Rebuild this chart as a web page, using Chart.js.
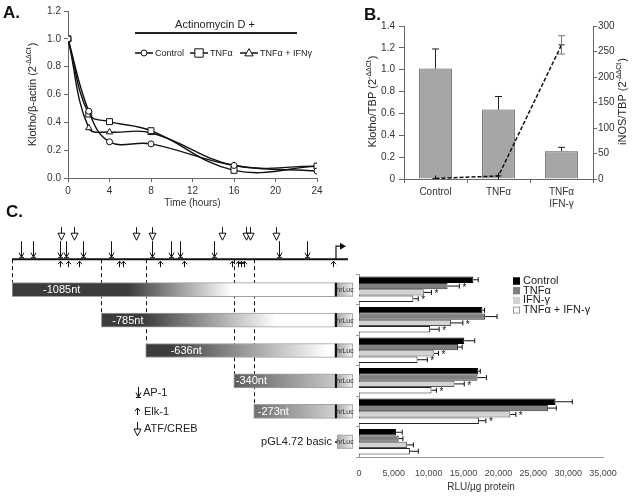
<!DOCTYPE html>
<html>
<head>
<meta charset="utf-8">
<script src="https://cdn.jsdelivr.net/npm/chart.js@4.4.1/dist/chart.umd.min.js"></script>
<style>
  body { margin: 0; background: #fff; }
  #wrap { position: relative; width: 632px; height: 496px; overflow: hidden; background: #fff; }
  canvas { position: absolute; }
</style>
</head>
<body>
<div id="wrap">
  <canvas id="chartD" width="360" height="296" style="left:0;top:200px"></canvas>
  <canvas id="chartA" width="330" height="215" style="left:0;top:0"></canvas>
  <canvas id="chartB" width="302" height="215" style="left:330px;top:0"></canvas>
  <canvas id="chartC" width="292" height="234" style="left:340px;top:262px"></canvas>
</div>
<script>
// ---- panel A: klotho mRNA decay ----
const timeHours = [0, 2, 4, 8, 16, 24];
const klothoControl = [1.0, 0.48, 0.26, 0.245, 0.09, 0.05];
const klothoTnf = [1.0, 0.46, 0.405, 0.34, 0.055, 0.085];
const klothoTnfIfn = [1.0, 0.36, 0.33, 0.325, 0.09, 0.085];

// ---- panel B: klotho vs iNOS ----
const treatB = ['Control', 'TNFα', ['TNFα', 'IFN-γ']];
const klothoTbp = [1.01, 0.635, 0.255];
const klothoTbpErr = [0.18, 0.12, 0.035];
const inosTbp = [1, 6, 263];
const inosTbpErr = [0, 0, 18];

// ---- panel C: promoter constructs ----
const constructs = ['-1085nt', '-785nt', '-636nt', '-340nt', '-273nt', 'pGL4.72 basic'];
const constructStart = [-1085, -785, -636, -340, -273];
const ap1Sites = [-1055, -1014, -924, -904, -846, -752, -615, -551, -521, -406, -188, -94];
const elk1Sites = [-924, -897, -860, -726, -712, -588, -507, -346, -326, -316, -306, -7];
const atfSites = [-920, -877, -668, -615, -380, -299, -286, -198];

const rluControl = [16400, 17700, 15100, 17100, 28200, 5300];
const rluControlErr = [700, 300, 1500, 300, 2400, 900];
const rluTnf = [12700, 18100, 14200, 17000, 27100, 5700];
const rluTnfErr = [1700, 1700, 600, 1300, 1200, 600];
const rluIfn = [9300, 13200, 10800, 13700, 21700, 6900];
const rluIfnErr = [1100, 1700, 600, 1400, 800, 900];
const rluTnfIfn = [7800, 10200, 8400, 10400, 17200, 7300];
const rluTnfIfnErr = [700, 1300, 1400, 700, 1000, 1200];
const sigTnf = [true, false, false, false, false, false];
const sigIfn = [true, true, true, true, true, false];
const sigTnfIfn = [true, true, true, true, true, false];

const FONT = '"Liberation Sans", Arial, sans-serif';
Chart.defaults.font.family = FONT;
Chart.defaults.color = '#333';

function font(size, bold) {
  return (bold ? 'bold ' : '') + size + 'px ' + FONT;
}

// rotated axis title with a superscript part
function supTitle(ctx, x, y, main, sup, tail, size) {
  ctx.save();
  ctx.translate(x, y);
  ctx.rotate(-Math.PI / 2);
  ctx.fillStyle = '#222';
  ctx.textBaseline = 'middle';
  ctx.textAlign = 'left';
  const f1 = font(size), f2 = font(Math.round(size * 0.6));
  ctx.font = f1;
  const w1 = ctx.measureText(main).width, w3 = ctx.measureText(tail).width;
  ctx.font = f2;
  const w2 = ctx.measureText(sup).width;
  let sx = -(w1 + w2 + w3) / 2;
  ctx.font = f1; ctx.fillText(main, sx, 0); sx += w1;
  ctx.font = f2; ctx.fillText(sup, sx, -size * 0.38); sx += w2 + 1;
  ctx.font = f1; ctx.fillText(tail, sx, 0);
  ctx.restore();
}

function marker(ctx, style, x, y, r) {
  ctx.beginPath();
  if (style === 'circle') ctx.arc(x, y, r, 0, Math.PI * 2);
  else if (style === 'rect') ctx.rect(x - r, y - r, 2 * r, 2 * r);
  else {
    ctx.moveTo(x, y - r * 1.2);
    ctx.lineTo(x + r * 1.15, y + r * 0.8);
    ctx.lineTo(x - r * 1.15, y + r * 0.8);
    ctx.closePath();
  }
  ctx.fillStyle = '#fff';
  ctx.fill();
  ctx.stroke();
}

function seg(ctx, x1, y1, x2, y2) {
  ctx.beginPath();
  ctx.moveTo(x1, y1);
  ctx.lineTo(x2, y2);
  ctx.stroke();
}

const axisGrid = { drawOnChartArea: false, tickLength: 4, color: '#666' };
const axisBorder = { color: '#666' };
const tickFont = { size: 10 };

// ================= A =================
const panelA = {
  id: 'panelA',
  afterDraw(chart) {
    const ctx = chart.ctx;
    ctx.save();
    ctx.fillStyle = '#111';
    ctx.font = font(17, true);
    ctx.textBaseline = 'middle';
    ctx.fillText('A.', 3, 13);
    supTitle(ctx, 33, 95, 'Klotho/β-actin (2', '-ΔΔCt', ')', 11);

    ctx.fillStyle = '#222';
    ctx.font = font(11);
    ctx.textAlign = 'center';
    ctx.fillText('Actinomycin D +', 215, 25);
    ctx.fillRect(135, 32, 162, 2);

    const legX = [135, 190, 240];
    ctx.font = font(9);
    ctx.textAlign = 'left';
    chart.data.datasets.forEach((ds, i) => {
      const x = legX[i], y = 53;
      ctx.strokeStyle = '#111';
      ctx.lineWidth = 1.5;
      seg(ctx, x, y, x + 18, y);
      ctx.lineWidth = 1;
      marker(ctx, ds.pointStyle, x + 9, y, ds.pointRadius);
      ctx.fillStyle = '#222';
      ctx.fillText(ds.label, x + 20, y + 0.5);
    });
    ctx.restore();
  }
};

const lineStyle = {
  borderColor: '#111', borderWidth: 1.4, tension: 0.4,
  pointBackgroundColor: '#fff', pointBorderColor: '#111', pointBorderWidth: 1
};

new Chart(document.getElementById('chartA'), {
  type: 'line',
  data: {
    datasets: [
      { label: 'Control', data: timeHours.map((t, i) => ({ x: t, y: klothoControl[i] })),
        pointStyle: 'circle', pointRadius: 3, ...lineStyle },
      { label: 'TNFα', data: timeHours.map((t, i) => ({ x: t, y: klothoTnf[i] })),
        pointStyle: 'rect', pointRadius: 4.2, ...lineStyle },
      { label: 'TNFα + IFNγ', data: timeHours.map((t, i) => ({ x: t, y: klothoTnfIfn[i] })),
        pointStyle: 'triangle', pointRadius: 3.6, ...lineStyle }
    ]
  },
  options: {
    responsive: false,
    animation: false,
    layout: { padding: { left: 0, right: 13, top: 11, bottom: 0 } },
    plugins: { legend: { display: false }, tooltip: { enabled: false } },
    scales: {
      x: {
        type: 'linear', min: 0, max: 24,
        ticks: { stepSize: 4, font: tickFont, padding: 3 },
        grid: axisGrid, border: axisBorder,
        title: { display: true, text: 'Time (hours)', font: { size: 10 }, padding: { top: 0, bottom: 6 } },
        afterFit(s) { s.height = 37; }
      },
      y: {
        min: 0, max: 1.2,
        ticks: { stepSize: 0.2, font: tickFont, padding: 3, callback: v => v.toFixed(1) },
        grid: axisGrid, border: axisBorder,
        afterFit(s) { s.width = 68; }
      }
    }
  },
  plugins: [panelA]
});

// ================= B =================
const panelB = {
  id: 'panelB',
  afterDatasetsDraw(chart) {
    const ctx = chart.ctx;
    const ys = chart.scales.y, y1 = chart.scales.y1;
    ctx.save();
    ctx.strokeStyle = '#222';
    ctx.lineWidth = 1;
    chart.getDatasetMeta(1).data.forEach((bar, i) => {
      const yt = ys.getPixelForValue(klothoTbp[i] + klothoTbpErr[i]);
      seg(ctx, bar.x, bar.y, bar.x, yt);
      seg(ctx, bar.x - 3.5, yt, bar.x + 3.5, yt);
    });
    chart.getDatasetMeta(0).data.forEach((pt, i) => {
      if (!inosTbpErr[i]) return;
      const yt = y1.getPixelForValue(inosTbp[i] + inosTbpErr[i]);
      const yb = y1.getPixelForValue(inosTbp[i] - inosTbpErr[i]);
      ctx.strokeStyle = '#777';
      seg(ctx, pt.x, yb, pt.x, yt);
      seg(ctx, pt.x - 3.5, yt, pt.x + 3.5, yt);
      seg(ctx, pt.x - 3.5, yb, pt.x + 3.5, yb);
    });
    ctx.restore();
  },
  afterDraw(chart) {
    const ctx = chart.ctx;
    ctx.save();
    ctx.fillStyle = '#111';
    ctx.font = font(17, true);
    ctx.textBaseline = 'middle';
    ctx.fillText('B.', 34, 15);
    supTitle(ctx, 43, 102, 'Klotho/TBP (2', '-ΔΔCt', ')', 11);
    supTitle(ctx, 293, 102, 'iNOS/TBP (2', '-ΔΔCt', ')', 11);
    ctx.restore();
  }
};

new Chart(document.getElementById('chartB'), {
  data: {
    labels: treatB,
    datasets: [
      { type: 'line', label: 'iNOS/TBP', data: inosTbp, yAxisID: 'y1',
        borderColor: '#111', borderWidth: 1.5, borderDash: [4, 2], tension: 0,
        pointStyle: 'cross', pointRadius: 3, pointBorderColor: '#111', pointBorderWidth: 1, order: 0 },
      { type: 'bar', label: 'Klotho/TBP', data: klothoTbp, yAxisID: 'y',
        backgroundColor: '#a6a6a6', borderColor: '#555', borderWidth: 1,
        barPercentage: 0.52, categoryPercentage: 1, order: 1 }
    ]
  },
  options: {
    responsive: false,
    animation: false,
    layout: { padding: { left: 0, right: 0, top: 26, bottom: 0 } },
    plugins: { legend: { display: false }, tooltip: { enabled: false } },
    scales: {
      x: {
        ticks: { font: tickFont, padding: 3, maxRotation: 0 },
        grid: { ...axisGrid, offset: true }, border: axisBorder,
        afterFit(s) { s.height = 36; }
      },
      y: {
        position: 'left', min: 0, max: 1.4,
        ticks: { stepSize: 0.2, font: tickFont, padding: 4 },
        grid: { ...axisGrid, tickLength: 5 }, border: axisBorder,
        afterFit(s) { s.width = 74; }
      },
      y1: {
        position: 'right', min: 0, max: 300,
        ticks: { stepSize: 50, font: tickFont, padding: 1 },
        grid: axisGrid, border: axisBorder,
        afterFit(s) { s.width = 39; }
      }
    }
  },
  plugins: [panelB]
});

// ================= C: luciferase bars =================
const rluErrs = [rluControlErr, rluTnfErr, rluIfnErr, rluTnfIfnErr];
const rluSig = [null, sigTnf, sigIfn, sigTnfIfn];

const panelC = {
  id: 'panelC',
  afterDatasetsDraw(chart) {
    const ctx = chart.ctx, xs = chart.scales.x;
    ctx.save();
    ctx.strokeStyle = '#111';
    ctx.fillStyle = '#111';
    ctx.lineWidth = 1;
    ctx.font = font(10);
    ctx.textBaseline = 'middle';
    chart.data.datasets.forEach((ds, i) => {
      chart.getDatasetMeta(i).data.forEach((bar, j) => {
        const xe = xs.getPixelForValue(ds.data[j] + rluErrs[i][j]);
        seg(ctx, bar.x, bar.y, xe, bar.y);
        seg(ctx, xe, bar.y - 2.5, xe, bar.y + 2.5);
        if (rluSig[i] && rluSig[i][j]) ctx.fillText('*', xe + 3, bar.y + 2);
      });
    });
    // legend
    ctx.font = font(11);
    chart.data.datasets.forEach((ds, i) => {
      const y = 19 + i * 9.7;
      ctx.fillStyle = ds.backgroundColor;
      ctx.strokeStyle = i === 3 ? '#999' : ds.backgroundColor;
      ctx.fillRect(173, y - 3.5, 7, 7);
      ctx.strokeRect(173.5, y - 3, 6, 6);
      ctx.fillStyle = '#222';
      ctx.fillText(ds.label, 183, y);
    });
    ctx.restore();
  }
};

new Chart(document.getElementById('chartC'), {
  type: 'bar',
  data: {
    labels: constructs,
    datasets: [
      { label: 'Control', data: rluControl, backgroundColor: '#000000', borderColor: '#000' },
      { label: 'TNFα', data: rluTnf, backgroundColor: '#808080', borderColor: '#333' },
      { label: 'IFN-γ', data: rluIfn, backgroundColor: '#d3d3d3', borderColor: '#555' },
      { label: 'TNFα + IFN-γ', data: rluTnfIfn, backgroundColor: '#ffffff', borderColor: '#222' }
    ]
  },
  options: {
    indexAxis: 'y',
    responsive: false,
    animation: false,
    datasets: { bar: { borderWidth: 1, categoryPercentage: 0.83, barPercentage: 1 } },
    layout: { padding: { left: 0, right: 29, top: 12, bottom: 0 } },
    plugins: { legend: { display: false }, tooltip: { enabled: false } },
    scales: {
      x: {
        min: 0, max: 35000,
        ticks: { stepSize: 5000, font: { size: 9 }, color: '#444', padding: 3, maxRotation: 0, minRotation: 0, autoSkip: false },
        grid: { display: false }, border: { color: '#999' },
        title: { display: true, text: 'RLU/µg protein', font: { size: 10 }, color: '#333', padding: { top: 0, bottom: 3 } },
        afterFit(s) { s.height = 39; }
      },
      y: {
        ticks: { display: false },
        grid: { drawOnChartArea: false, tickLength: 3, color: '#999', offset: true },
        border: { color: '#999' },
        afterFit(s) { s.width = 19; }
      }
    }
  },
  plugins: [panelC]
});

// ================= C: promoter diagram =================
const barShade = [
  ['#3c3c3c', '#ffffff', 0.36, 0.68],
  ['#3c3c3c', '#ffffff', 0.18, 0.75],
  ['#3c3c3c', '#ffffff', 0.12, 0.96],
  ['#5c5c5c', '#c8c8c8', 0.0, 1.0],
  ['#707070', '#d0d0d0', 0.0, 1.0]
];
const labelOffset = [31, 11, 25, 2, 4];

function constructFill(c) {
  const chart = c.chart, i = c.dataIndex - 1;
  const xs = chart.scales.x;
  if (!xs || i < 0 || i >= barShade.length) return '#555';
  const x0 = xs.getPixelForValue(constructStart[i]), x1 = xs.getPixelForValue(0);
  const g = chart.ctx.createLinearGradient(x0, 0, x1, 0);
  const s = barShade[i];
  g.addColorStop(0, s[0]);
  g.addColorStop(s[2], s[0]);
  g.addColorStop(s[3], s[1]);
  g.addColorStop(1, s[1]);
  return g;
}

const diagram = {
  id: 'diagram',
  beforeDatasetsDraw(chart) {
    const ctx = chart.ctx, xs = chart.scales.x, ys = chart.scales.y;
    const yl = ys.getPixelForValue(0);
    ctx.save();
    ctx.strokeStyle = '#111';
    ctx.lineWidth = 1;
    ctx.setLineDash([4, 3]);
    constructStart.forEach((s, i) => {
      const x = Math.round(xs.getPixelForValue(s)) + 0.5;
      seg(ctx, x, yl, x, ys.getPixelForValue(i + 1) - 7);
    });
    ctx.restore();
  },
  afterDatasetsDraw(chart) {
    const ctx = chart.ctx, xs = chart.scales.x, ys = chart.scales.y;
    const px = v => xs.getPixelForValue(v);
    const yl = ys.getPixelForValue(0);
    const x0 = px(0);
    ctx.save();
    ctx.strokeStyle = '#111';
    ctx.fillStyle = '#111';

    // promoter line and start site
    ctx.lineWidth = 2;
    seg(ctx, px(-1085), yl, x0 + 13, yl);
    ctx.lineWidth = 1.2;
    ctx.beginPath();
    ctx.moveTo(x0 + 1, yl);
    ctx.lineTo(x0 + 1, yl - 13);
    ctx.lineTo(x0 + 6, yl - 13);
    ctx.stroke();
    ctx.beginPath();
    ctx.moveTo(x0 + 11, yl - 13);
    ctx.lineTo(x0 + 5, yl - 16.5);
    ctx.lineTo(x0 + 5, yl - 9.5);
    ctx.closePath();
    ctx.fill();

    // binding sites
    const ap1 = (x, top, bot) => {
      ctx.lineWidth = 1;
      seg(ctx, x, top, x, bot);
      ctx.beginPath();
      ctx.moveTo(x - 2.5, bot - 4.5); ctx.lineTo(x, bot); ctx.lineTo(x + 2.5, bot - 4.5);
      ctx.stroke();
      seg(ctx, x - 2.5, bot + 0.5, x + 2.5, bot + 0.5);
    };
    const elk = (x, top, bot) => {
      ctx.lineWidth = 1;
      seg(ctx, x, bot, x, top);
      ctx.beginPath();
      ctx.moveTo(x - 2.5, top + 3); ctx.lineTo(x, top); ctx.lineTo(x + 2.5, top + 3);
      ctx.stroke();
    };
    const atf = (x, top, bot) => {
      ctx.lineWidth = 1;
      seg(ctx, x, top, x, bot - 7);
      ctx.beginPath();
      ctx.moveTo(x - 3.5, bot - 7); ctx.lineTo(x + 3.5, bot - 7); ctx.lineTo(x, bot);
      ctx.closePath();
      ctx.fillStyle = '#fff';
      ctx.fill();
      ctx.stroke();
      ctx.fillStyle = '#111';
    };
    ap1Sites.forEach(s => ap1(Math.round(px(s)) + 0.5, yl - 18, yl - 2));
    atfSites.forEach(s => atf(Math.round(px(s)) + 0.5, yl - 32, yl - 19));
    elk1Sites.forEach(s => elk(Math.round(px(s)) + 0.5, yl + 2, yl + 8));

    // reporter boxes
    for (let r = 1; r <= constructs.length; r++) {
      const yc = ys.getPixelForValue(r);
      if (r <= constructStart.length) {
        ctx.fillStyle = '#111';
        ctx.fillRect(x0, yc - 7, 2, 14);
      } else {
        ctx.fillStyle = '#222';
        ctx.fillRect(x0, yc - 0.5, 2, 1.5);
      }
      const g = ctx.createLinearGradient(x0 + 2, 0, x0 + 18, 0);
      g.addColorStop(0, '#a8a8a8');
      g.addColorStop(1, '#f2f2f2');
      ctx.fillStyle = g;
      ctx.fillRect(x0 + 2, yc - 7, 16, 14);
      ctx.strokeStyle = '#aaa';
      ctx.lineWidth = 1;
      ctx.strokeRect(x0 + 2.5, yc - 6.5, 15, 13);
      ctx.fillStyle = '#333';
      ctx.font = font(7);
      ctx.textAlign = 'center';
      ctx.textBaseline = 'middle';
      ctx.fillText('hrLuc', x0 + 10, yc + 0.5);
    }

    // construct labels
    ctx.font = font(11);
    ctx.textAlign = 'left';
    ctx.textBaseline = 'middle';
    ctx.fillStyle = '#fff';
    constructStart.forEach((s, i) => {
      ctx.fillText(constructs[i], px(s) + labelOffset[i], ys.getPixelForValue(i + 1) + 0.5);
    });
    ctx.fillStyle = '#222';
    ctx.textAlign = 'right';
    ctx.fillText(constructs[5], x0 - 3, ys.getPixelForValue(6) + 0.5);

    // site legend
    ctx.textAlign = 'left';
    ctx.strokeStyle = '#111';
    ap1(138.5, 187, 197);
    ctx.fillStyle = '#222';
    ctx.fillText('AP-1', 143, 193);
    elk(137.5, 208, 215);
    ctx.fillText('Elk-1', 144, 211.5);
    atf(137.5, 222, 236);
    ctx.fillStyle = '#222';
    ctx.fillText('ATF/CREB', 144, 229);

    ctx.fillStyle = '#111';
    ctx.font = font(17, true);
    ctx.fillText('C.', 6, 12);
    ctx.restore();
  }
};

new Chart(document.getElementById('chartD'), {
  type: 'bar',
  data: {
    labels: ['promoter'].concat(constructs),
    datasets: [{
      label: 'construct',
      data: [null].concat(constructStart.map(s => [s, 0]), [null]),
      backgroundColor: constructFill,
      borderColor: '#a0a0a0',
      borderWidth: 1,
      borderSkipped: false,
      barThickness: 14
    }]
  },
  options: {
    indexAxis: 'y',
    responsive: false,
    animation: false,
    layout: { padding: { left: 12, right: 25, top: 44, bottom: 39 } },
    plugins: { legend: { display: false }, tooltip: { enabled: false } },
    scales: {
      x: { type: 'linear', min: -1085, max: 0, display: false },
      y: { display: false }
    }
  },
  plugins: [diagram]
});
</script>
</body>
</html>
